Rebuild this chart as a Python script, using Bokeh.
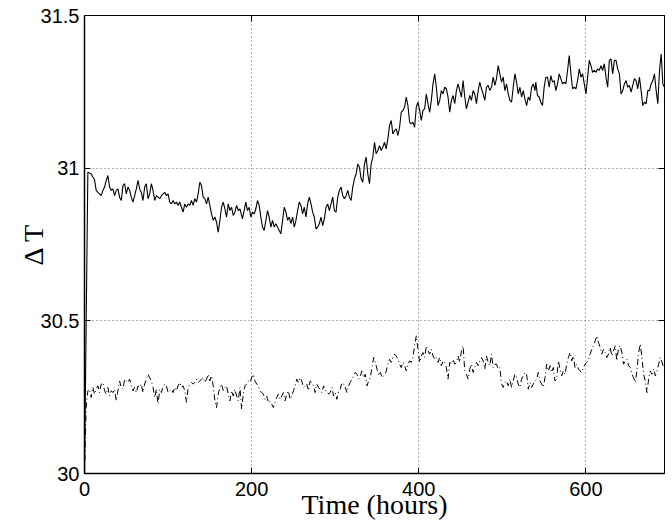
from bokeh.plotting import figure
from bokeh.models import Range1d, FixedTicker, CustomJSTickFormatter, LinearAxis
from bokeh.embed import file_html
from bokeh.resources import INLINE

x_tick_values = [0, 200, 400, 600]
y_tick_values = [30, 30.5, 31, 31.5]
x_label_text = "Time (hours)"
y_label_text = "\u0394 T"

# upper (solid) curve
t_upper = [0, 4,
    8, 10, 12, 14, 16, 18, 20, 22, 24, 26,
    28, 30, 32, 34, 36, 38, 40, 42, 44, 46,
    48, 50, 52, 54, 56, 58, 60, 62, 64, 66,
    68, 70, 72, 74, 76, 78, 80, 82, 84, 86,
    88, 90, 92, 94, 96, 98, 100, 102, 104, 106,
    108, 110, 112, 114, 116, 118, 120, 122, 124, 126,
    128, 130, 132, 134, 136, 138, 140, 142, 144, 146,
    148, 150, 152, 154, 156, 158, 160, 162, 164, 166,
    168, 170, 172, 174, 176, 178, 180, 182, 184, 186,
    189, 191, 193, 195, 197, 199, 201, 203, 205, 207,
    209, 211, 213, 215, 217, 219, 221, 223, 225, 227,
    229, 231, 233, 235, 237, 239, 241, 243, 245, 247,
    249, 251, 253, 255, 257, 259, 261, 263, 265, 267,
    269, 271, 273, 275, 277, 279, 281, 283, 285, 287,
    289, 291, 293, 295, 297, 299, 301, 303, 305, 307,
    309, 311, 313, 315, 317, 319, 321, 323, 325, 327,
    329, 331, 333, 335, 337, 339, 341, 343, 345, 347,
    349, 351, 353, 355, 357, 359, 361, 363, 365, 367,
    369, 371, 373, 375, 377,
    379, 381, 383, 385, 387, 389, 391, 393, 395, 397,
    399, 401, 403, 405, 407, 409, 411, 413, 415, 417,
    419, 421, 423, 425, 427, 429, 431, 433, 435, 437,
    439, 441, 443, 445, 447, 449, 451, 453, 455, 457,
    459, 461, 463, 465, 467, 469, 471, 473, 475, 477,
    479, 481, 483, 485, 487, 489, 491, 493, 495, 497,
    499, 501, 503, 505, 507, 509, 511, 513, 515, 517,
    519, 521, 523, 525, 527, 529, 531, 533, 535, 537,
    539,
    540, 542, 544, 546, 548, 550, 552, 554, 556, 558,
    560, 562, 564, 566, 568, 570, 572, 574, 576, 578,
    580, 582, 584, 586, 588, 590, 592, 594, 596, 598,
    600, 602, 604, 606, 608, 610, 612, 614, 616, 618,
    620, 622, 624, 626, 628, 630, 632, 634, 636, 638,
    640, 642, 644, 646, 648, 650, 652, 654, 656, 658,
    660, 662, 664, 666, 668, 670, 672, 674, 676, 678,
    680, 682, 684, 686, 688, 690, 692, 694]

dT_upper = [30.000, 30.987,
    30.981, 30.971, 30.962, 30.927, 30.921, 30.916, 30.910, 30.927, 30.938, 30.960,
    30.976, 30.938, 30.927, 30.932, 30.910, 30.927, 30.932, 30.905, 30.894, 30.943,
    30.949, 30.916, 30.938, 30.927, 30.905, 30.889, 30.910, 30.932, 30.960, 30.932,
    30.921, 30.894, 30.938, 30.949, 30.900, 30.916, 30.949, 30.927, 30.894, 30.910,
    30.905, 30.900, 30.910, 30.916, 30.921, 30.910, 30.916, 30.889, 30.883, 30.894,
    30.883, 30.889, 30.878, 30.889, 30.872, 30.856, 30.883, 30.872, 30.883, 30.878,
    30.894, 30.878, 30.900, 30.889, 30.916, 30.954, 30.943, 30.905, 30.900, 30.883,
    30.905, 30.878, 30.850, 30.829, 30.840, 30.823, 30.790, 30.829, 30.872, 30.889,
    30.867, 30.840, 30.883, 30.861, 30.872, 30.845, 30.856, 30.878, 30.861, 30.867,
    30.834, 30.861, 30.889, 30.861, 30.872, 30.840, 30.856, 30.850, 30.867, 30.894,
    30.878, 30.840, 30.807, 30.796, 30.829, 30.861, 30.840, 30.807, 30.829, 30.807,
    30.818, 30.807, 30.796, 30.785, 30.829, 30.872, 30.856, 30.829, 30.840, 30.818,
    30.840, 30.807, 30.829, 30.861, 30.889, 30.878, 30.850, 30.872, 30.840, 30.883,
    30.905, 30.883, 30.856, 30.840, 30.801, 30.807, 30.818, 30.840, 30.812, 30.834,
    30.872, 30.883, 30.861, 30.883, 30.905, 30.861, 30.856, 30.905, 30.927, 30.938,
    30.910, 30.900, 30.910, 30.927, 30.905, 30.894, 30.938, 30.965, 30.981, 31.014,
    31.003, 30.965, 30.954, 31.014, 31.036, 30.981, 30.949, 31.014, 31.036, 31.085,
    31.047, 31.058, 31.074, 31.058, 31.069, 31.085, 31.063, 31.096, 31.140, 31.156,
    31.112, 31.123, 31.129, 31.107, 31.134,
    31.183, 31.189, 31.200, 31.233, 31.205, 31.151, 31.145, 31.151, 31.134, 31.200,
    31.216, 31.189, 31.156, 31.189, 31.194, 31.243, 31.211, 31.183, 31.222, 31.276,
    31.309, 31.265, 31.205, 31.222, 31.254, 31.243, 31.265, 31.260, 31.233, 31.183,
    31.222, 31.238, 31.211, 31.254, 31.276, 31.254, 31.233, 31.287, 31.233, 31.194,
    31.216, 31.238, 31.222, 31.254, 31.243, 31.211, 31.254, 31.282, 31.260, 31.243,
    31.222, 31.265, 31.271, 31.254, 31.265, 31.298, 31.271, 31.293, 31.336, 31.309,
    31.282, 31.298, 31.254, 31.276, 31.243, 31.222, 31.216, 31.265, 31.309, 31.282,
    31.243, 31.265, 31.233, 31.254, 31.227, 31.205, 31.233, 31.222, 31.265, 31.276,
    31.254,
    31.282, 31.238, 31.233, 31.216, 31.205, 31.265, 31.298, 31.298, 31.265, 31.303,
    31.282, 31.287, 31.254, 31.276, 31.309, 31.293, 31.276, 31.282, 31.276, 31.320,
    31.369, 31.309, 31.260, 31.265, 31.260, 31.287, 31.325, 31.298, 31.309, 31.276,
    31.243, 31.298, 31.353, 31.336, 31.314, 31.320, 31.314, 31.325, 31.320, 31.336,
    31.320, 31.342, 31.298, 31.265, 31.353, 31.358, 31.309, 31.353, 31.353, 31.325,
    31.309, 31.243, 31.254, 31.276, 31.287, 31.265, 31.271, 31.249, 31.271, 31.293,
    31.287, 31.260, 31.298, 31.254, 31.205, 31.216, 31.211, 31.254, 31.254, 31.276,
    31.287, 31.309, 31.254, 31.211, 31.320, 31.374, 31.276, 31.265]

# lower (dash-dot) curve
t_lower = [0, 2, 4, 6, 8, 10, 12, 14, 16, 18,
    20, 22, 24, 26, 28, 30, 32, 34, 36, 38,
    40, 42, 44, 46, 48, 50, 52, 54, 56, 58,
    60, 62, 64, 66, 68, 70, 72, 74, 76, 78,
    80, 82, 84, 86, 88, 90, 92, 94, 96, 98,
    100, 102, 104, 106, 108, 110, 112, 114, 116, 118,
    120, 122, 124, 126, 128, 130, 132, 134, 136, 138,
    140, 142, 144, 146, 148, 150, 152, 154, 156, 158,
    160, 162, 164, 166, 168, 170, 172, 174, 176, 178,
    180, 182, 184, 186, 188, 190, 192, 194, 196, 198,
    200, 202, 204, 206, 208, 210, 212, 214, 216, 218,
    220, 222, 224, 226, 228, 230, 232, 234, 236, 238,
    240, 242, 244, 246, 248, 250, 252, 254, 256, 258,
    260, 262, 264, 266, 268, 270, 272, 274, 276, 278,
    280, 282, 284, 286, 288, 290, 292, 294, 296, 298,
    300, 302, 304, 306, 308, 310, 312, 314, 316, 318,
    320, 322, 324, 326, 328, 330, 332, 334, 336, 338,
    340, 342, 344, 346, 348, 350, 352, 354, 356, 358,
    360,
    363, 365, 367, 369, 371, 373, 375, 377, 379, 381,
    383, 385, 387, 389, 391, 393, 395, 397, 399, 401,
    403, 405, 407, 409, 411, 413, 415, 417, 419, 421,
    423, 425, 427, 429, 431, 433, 435, 437, 439, 441,
    443, 445, 447, 449, 451, 453, 455, 457, 459, 461,
    463, 465, 467, 469, 471, 473, 475, 477, 479, 481,
    483, 485, 487, 489, 491, 493, 495, 497, 499, 501,
    503, 505, 507, 509, 511, 513, 515, 517, 519, 521,
    523, 525, 527, 529, 531, 533, 535, 537, 539, 541,
    543, 545, 547, 549, 551, 553, 555, 557, 559, 561,
    563, 565, 567, 569, 571, 573, 575, 577, 579, 581,
    583, 585, 587, 589, 591, 593, 595, 597, 599, 601,
    603, 605, 607, 609, 611, 613, 615, 617, 619, 621,
    623, 625, 627, 629, 631, 633, 635, 637, 639, 641,
    643, 645, 647, 649, 651, 653, 655, 657, 659, 661,
    663, 665, 667, 669, 671, 673, 675, 677, 679, 681,
    683, 685, 687, 689, 691, 693]

dT_lower = [30.000, 30.216, 30.271, 30.276, 30.249, 30.282, 30.260, 30.276, 30.287, 30.265,
    30.293, 30.298, 30.271, 30.260, 30.282, 30.254, 30.271, 30.265, 30.276, 30.238,
    30.271, 30.303, 30.282, 30.276, 30.309, 30.303, 30.298, 30.309, 30.287, 30.271,
    30.282, 30.265, 30.287, 30.282, 30.293, 30.265, 30.293, 30.309, 30.325, 30.314,
    30.303, 30.282, 30.249, 30.276, 30.227, 30.276, 30.265, 30.282, 30.293, 30.287,
    30.265, 30.271, 30.276, 30.265, 30.282, 30.271, 30.287, 30.298, 30.282, 30.287,
    30.271, 30.233, 30.282, 30.293, 30.298, 30.293, 30.298, 30.309, 30.298, 30.303,
    30.309, 30.314, 30.298, 30.309, 30.325, 30.303, 30.320, 30.287, 30.238, 30.216,
    30.260, 30.282, 30.293, 30.271, 30.282, 30.287, 30.260, 30.238, 30.271, 30.254,
    30.276, 30.254, 30.238, 30.282, 30.211, 30.260, 30.287, 30.293, 30.303, 30.298,
    30.314, 30.325, 30.303, 30.293, 30.287, 30.271, 30.265, 30.260, 30.243, 30.254,
    30.233, 30.238, 30.227, 30.216, 30.233, 30.249, 30.260, 30.243, 30.254, 30.265,
    30.238, 30.260, 30.271, 30.243, 30.254, 30.271, 30.287, 30.309, 30.298, 30.314,
    30.303, 30.282, 30.287, 30.293, 30.271, 30.303, 30.298, 30.287, 30.265, 30.293,
    30.282, 30.276, 30.265, 30.287, 30.271, 30.271, 30.260, 30.265, 30.282, 30.254,
    30.265, 30.243, 30.271, 30.276, 30.298, 30.293, 30.282, 30.265, 30.287, 30.298,
    30.309, 30.320, 30.331, 30.325, 30.309, 30.320, 30.336, 30.314, 30.325, 30.287,
    30.303, 30.314, 30.347, 30.380, 30.364, 30.342, 30.320, 30.331, 30.314, 30.320,
    30.325,
    30.358, 30.374, 30.364, 30.380, 30.391, 30.385, 30.374, 30.358, 30.347, 30.364,
    30.353, 30.336, 30.358, 30.369, 30.364, 30.380, 30.418, 30.451, 30.407, 30.364,
    30.385, 30.396, 30.380, 30.418, 30.402, 30.391, 30.407, 30.385, 30.374, 30.380,
    30.364, 30.380, 30.353, 30.369, 30.364, 30.347, 30.309, 30.364, 30.358, 30.374,
    30.358, 30.364, 30.385, 30.364, 30.402, 30.418, 30.336, 30.325, 30.309, 30.342,
    30.358, 30.331, 30.347, 30.364, 30.353, 30.369, 30.380, 30.369, 30.342, 30.385,
    30.364, 30.353, 30.391, 30.347, 30.358, 30.358, 30.342, 30.347, 30.293, 30.282,
    30.298, 30.303, 30.287, 30.309, 30.282, 30.303, 30.325, 30.314, 30.293, 30.282,
    30.309, 30.320, 30.331, 30.325, 30.276, 30.298, 30.282, 30.293, 30.303, 30.309,
    30.331, 30.303, 30.293, 30.282, 30.314, 30.358, 30.336, 30.353, 30.331, 30.347,
    30.303, 30.309, 30.369, 30.342, 30.320, 30.336, 30.325, 30.358, 30.380, 30.396,
    30.369, 30.385, 30.347, 30.358, 30.342, 30.336, 30.331, 30.347, 30.358, 30.364,
    30.369, 30.391, 30.407, 30.418, 30.434, 30.451, 30.429, 30.413, 30.391, 30.407,
    30.396, 30.380, 30.391, 30.413, 30.385, 30.402, 30.418, 30.369, 30.413, 30.418,
    30.396, 30.358, 30.369, 30.374, 30.353, 30.347, 30.325, 30.314, 30.298, 30.336,
    30.396, 30.424, 30.380, 30.325, 30.303, 30.265, 30.309, 30.336, 30.325, 30.342,
    30.320, 30.336, 30.358, 30.380, 30.364, 30.347]

assert len(t_upper) == len(dT_upper), (len(t_upper), len(dT_upper))
assert len(t_lower) == len(dT_lower), (len(t_lower), len(dT_lower))

p = figure(width=672, height=527, output_backend="svg", toolbar_location=None,
           x_range=Range1d(0, 694), y_range=Range1d(30, 31.5),
           x_axis_label=x_label_text, y_axis_label=y_label_text,
           min_border_left=84, min_border_right=8, min_border_top=15, min_border_bottom=54,
           background_fill_color="white", border_fill_color="white")

p.xaxis.ticker = FixedTicker(ticks=x_tick_values)
p.yaxis.ticker = FixedTicker(ticks=y_tick_values)
p.yaxis.formatter = CustomJSTickFormatter(code="return String(tick);")
for ax in (p.xaxis[0], p.yaxis[0]):
    ax.major_tick_in = 6
    ax.major_tick_out = 0
    ax.minor_tick_line_color = None
    ax.major_label_text_font = "Liberation Sans"
    ax.major_label_text_font_size = "20px"
    ax.major_label_text_color = "black"
    ax.axis_line_color = "black"
    ax.axis_line_width = 1.5
    ax.major_tick_line_color = "black"
    ax.axis_label_text_font = "Liberation Serif"
    ax.axis_label_text_font_size = "28px"
    ax.axis_label_text_font_style = "normal"
    ax.axis_label_text_color = "black"
p.xaxis.major_label_standoff = 8
p.yaxis.major_label_standoff = 5
p.xaxis.axis_label_standoff = -10
p.yaxis.axis_label_standoff = -11

top_ax = LinearAxis(ticker=FixedTicker(ticks=x_tick_values),
                    formatter=CustomJSTickFormatter(code="return '';"),
                    major_tick_in=6, major_tick_out=0, minor_tick_line_color=None,
                    major_label_standoff=0, axis_line_color="black",
                    major_label_text_font_size="1px")
right_ax = LinearAxis(ticker=FixedTicker(ticks=y_tick_values),
                      formatter=CustomJSTickFormatter(code="return '';"),
                      major_tick_in=6, major_tick_out=0, minor_tick_line_color=None,
                      major_label_standoff=0, axis_line_color="black",
                      major_label_text_font_size="1px")
p.add_layout(top_ax, "above")
p.add_layout(right_ax, "right")

p.grid.grid_line_color = "#666666"
p.grid.grid_line_dash = "1 3"
p.grid.grid_line_width = 1
p.outline_line_color = "black"

p.line(t_upper, dT_upper, line_color="black", line_width=1.1)
p.line(t_lower, dT_lower, line_color="black", line_width=1.0, line_dash="6 3 1 3")

open("out.html", "w").write(file_html(p, INLINE))
